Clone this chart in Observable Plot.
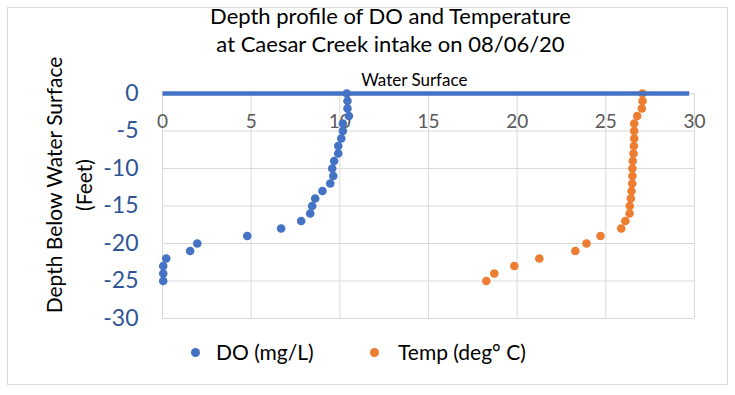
<!DOCTYPE html>
<html>
<head>
<meta charset="utf-8">
<script src="https://cdn.jsdelivr.net/npm/d3@7"></script>
<script src="https://cdn.jsdelivr.net/npm/@observablehq/plot@0.6"></script>
<style>
  html, body { margin: 0; padding: 0; background: #fff; }
  #wrap { position: relative; width: 735px; height: 395px; font-family: Lato, "Open Sans", sans-serif; }
  #border { position: absolute; left: 7px; top: 7px; width: 719px; height: 376px; border: 1px solid #d9d9d9; pointer-events: none; }
  .leg { position: absolute; font-size: 21px; color: #000; line-height: 1; }
  .sw { position: absolute; width: 9px; height: 9px; border-radius: 50%; }
  svg { display: block; }
</style>
</head>
<body>
<div id="wrap">
  <div id="chart"></div>
  <div id="border"></div>
</div>
<script>
// Depth below water surface (feet)
const depths = [0, -1, -2, -3, -4, -5, -6, -7, -8, -9, -10, -11, -12, -13, -14, -15, -16, -17, -18, -19, -20, -21, -22, -23, -24, -25];
// Dissolved oxygen (mg/L)
const doValues = [10.39, 10.43, 10.43, 10.51, 10.17, 10.17, 10.08, 9.91, 9.91, 9.68, 9.57, 9.63, 9.46, 9.02, 8.61, 8.44, 8.33, 7.82, 6.69, 4.78, 1.96, 1.56, 0.21, 0.04, 0.04, 0.04];
// Temperature (deg C)
const tempValues = [27.06, 27.07, 27.03, 26.77, 26.6, 26.6, 26.6, 26.58, 26.56, 26.52, 26.5, 26.5, 26.49, 26.45, 26.41, 26.35, 26.34, 26.1, 25.87, 24.7, 23.91, 23.28, 21.25, 19.84, 18.71, 18.26];
// Water surface series
const surfaceX = [0, 29.7];
const surfaceY = [0, 0];
const surfaceLabel = ["Water Surface"];
const surfaceLabelX = [14.2];
// Ticks
const xTicks = [0, 5, 10, 15, 20, 25, 30];
const yTicks = [0, -5, -10, -15, -20, -25, -30];
const titleText = "Depth profile of DO and Temperature\nat Caesar Creek intake on 08/06/20";
const yTitle = "Depth Below Water Surface\n(Feet)";
const seriesNames = ["DO (mg/L)", "Temp (deg° C)"];
const seriesColors = ["#4472C4", "#ED7D31"];

const doData = depths.map((d, i) => ({depth: d, v: doValues[i]}));
const tempData = depths.map((d, i) => ({depth: d, v: tempValues[i]}));
const surface = surfaceX.map((x, i) => ({x, y: surfaceY[i]}));

const chart = Plot.plot({
  width: 735,
  height: 395,
  marginLeft: 162,
  marginRight: 41,
  marginTop: 93,
  marginBottom: 77,
  style: {fontFamily: "Lato, 'Open Sans', sans-serif", background: "#fff", overflow: "visible"},
  x: {domain: [0, 30]},
  y: {domain: [-30, 0]},
  marks: [
    Plot.gridX(xTicks, {stroke: "#d9d9d9", strokeOpacity: 1, strokeWidth: 1}),
    Plot.gridY(yTicks, {stroke: "#d9d9d9", strokeOpacity: 1, strokeWidth: 1}),
    Plot.axisY(yTicks, {tickSize: 0, tickPadding: 24, fontSize: 23, fill: "#2F5597", label: null, tickFormat: d => d === 0 ? "0" : "-" + Math.abs(d)}),
    Plot.axisX(xTicks, {anchor: "top", tickSize: 0, tickPadding: 0, dy: 34, fontSize: 19, fill: "#595959", label: null}),
    Plot.dot(doData, {x: "v", y: "depth", r: 4.3, fill: seriesColors[0], stroke: "none"}),
    Plot.dot(tempData, {x: "v", y: "depth", r: 4.3, fill: seriesColors[1], stroke: "none"}),
    Plot.line(surface, {x: "x", y: "y", stroke: "#4472C4", strokeWidth: 4.5, strokeLinecap: "butt"}),
    Plot.text(surfaceLabel, {x: surfaceLabelX, y: [0], text: d => d, dy: -13, fontSize: 17, fill: "#000"}),
    Plot.text([titleText], {frameAnchor: "top", dx: -38, dy: -64, lineAnchor: "middle", lineHeight: 1.27, fontSize: 22, fill: "#000", text: d => d}),
    Plot.text([yTitle], {frameAnchor: "left", textAnchor: "middle", dx: -95, dy: -21, rotate: -90, lineAnchor: "middle", lineHeight: 1.45, fontSize: 21, fill: "#000", text: d => d})
  ]
});
document.getElementById("chart").appendChild(chart);

// Legend (HTML overlay)
const wrap = document.getElementById("wrap");
const legPos = [{dot: 195, text: 216}, {dot: 374, text: 398}];
seriesNames.forEach((name, i) => {
  const sw = document.createElement("div");
  sw.className = "sw";
  sw.style.left = (legPos[i].dot - 4.5) + "px";
  sw.style.top = (352 - 4.5) + "px";
  sw.style.background = seriesColors[i];
  wrap.appendChild(sw);
  const t = document.createElement("div");
  t.className = "leg";
  t.style.left = legPos[i].text + "px";
  t.style.top = "341px";
  t.textContent = name;
  wrap.appendChild(t);
});
</script>
</body>
</html>
